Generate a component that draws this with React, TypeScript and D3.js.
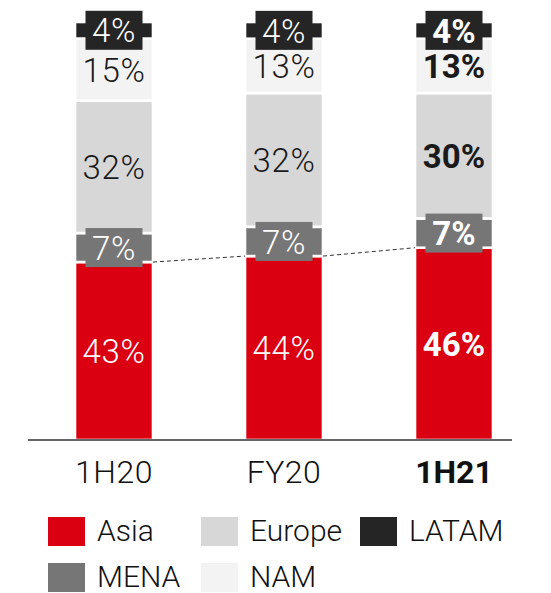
import React from "react";
import * as d3 from "d3";

const categories = ["1H20", "FY20", "1H21"];
const seriesNames = ["Asia", "MENA", "Europe", "NAM", "LATAM"];
const asia = [43, 44, 46];
const mena = [7, 7, 7];
const europe = [32, 32, 30];
const nam = [15, 13, 13];
const latam = [4, 4, 4];
const colors = ["#DB0011", "#767676", "#D7D7D7", "#F3F3F3", "#252525"];
const textColors = ["#ffffff", "#ffffff", "#1a1a1a", "#1a1a1a", "#ffffff"];
const boxed = [false, true, false, false, true];
const legendOrder = ["Asia", "Europe", "LATAM", "MENA", "NAM"];

const W = 551;
const H = 593;
const FONT = "Roboto, 'Liberation Sans', sans-serif";

export default function App() {
  const values = [asia, mena, europe, nam, latam];
  const x = d3.scalePoint<string>().domain(categories).range([29, 539]).padding(0.5);
  const y = d3.scaleLinear().domain([0, 1]).range([440, 22]);
  const bw = 78;

  const bars = categories.map((c, i) => {
    const total = d3.sum(values, (s) => s[i]);
    let cum = 0;
    const segs = values.map((s, k) => {
      const y0 = cum / total;
      cum += s[i];
      const y1 = cum / total;
      return { k, v: s[i], y0, y1 };
    });
    return { c, i, segs };
  });

  const dash = bars.slice(0, -1).map((b, i) => {
    const nb = bars[i + 1];
    return {
      x1: (x(b.c) as number) + bw / 2,
      y1: y(b.segs[0].y1),
      x2: (x(nb.c) as number) - bw / 2,
      y2: y(nb.segs[0].y1),
    };
  });

  return (
    <svg width={W} height={H} style={{ display: "block", position: "absolute", left: 0, top: 0 }}>
      <rect width={W} height={H} fill="#fff" />
      {bars.map((b) => {
        const cx = x(b.c) as number;
        const bold = b.i === 2;
        return (
          <g key={b.c}>
            {b.segs.map((s) => (
              <rect
                key={s.k}
                x={cx - bw / 2}
                y={y(s.y1)}
                width={bw}
                height={y(s.y0) - y(s.y1)}
                fill={colors[s.k]}
                stroke="#fff"
                strokeWidth={2.6}
              />
            ))}
            {b.segs.map((s) => {
              const cy = (y(s.y0) + y(s.y1)) / 2;
              return (
                <g key={"l" + s.k}>
                  {boxed[s.k] && (
                    <rect x={cx - 28.5} y={cy - 19.5} width={57} height={39} fill={colors[s.k]} />
                  )}
                  <text
                    x={cx}
                    y={cy}
                    dy="0.37em"
                    textAnchor="middle"
                    fontFamily={FONT}
                    fontWeight={bold ? 700 : 300}
                    fontSize={33}
                    letterSpacing={bold ? 0 : 0.6}
                    fill={textColors[s.k]}
                  >
                    {s.v}%
                  </text>
                </g>
              );
            })}
          </g>
        );
      })}
      {dash.map((d, i) => (
        <line key={i} {...d} stroke="#333" strokeWidth={1} strokeDasharray="4,3" />
      ))}
      <line x1={28} x2={512} y1={440} y2={440} stroke="#333" strokeWidth={1.6} />
      {categories.map((c, i) => (
        <text
          key={c}
          x={x(c) as number}
          y={483}
          textAnchor="middle"
          fontFamily={FONT}
          fontWeight={i === 2 ? 700 : 300}
          fontSize={32}
          letterSpacing={i === 2 ? 0 : 0.5}
          fill="#111"
        >
          {c}
        </text>
      ))}
      {legendOrder.map((name, j) => {
        const col = j < 3 ? j : j - 3;
        const row = j < 3 ? 0 : 1;
        const lx = [48, 201, 360][col];
        const ly = [517, 563][row];
        const k = seriesNames.indexOf(name);
        return (
          <g key={name}>
            <rect x={lx} y={ly} width={37} height={29} fill={colors[k]} />
            <text x={lx + 49} y={ly + 24} fontFamily={FONT} fontWeight={300} fontSize={30} fill="#111">
              {name}
            </text>
          </g>
        );
      })}
    </svg>
  );
}
